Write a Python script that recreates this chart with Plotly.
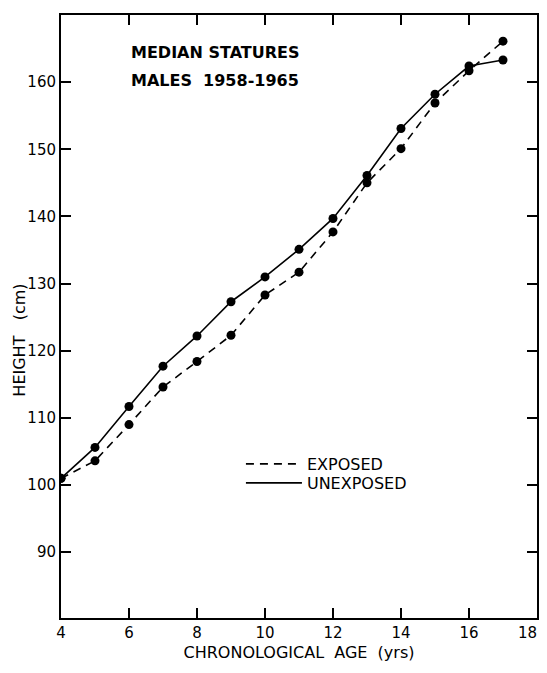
import plotly.graph_objects as go

ages = [4, 5, 6, 7, 8, 9, 10, 11, 12, 13, 14, 15, 16, 17]
exposed = [101.0, 103.6, 109.0, 114.6, 118.4, 122.3, 128.3, 131.7, 137.7, 145.0, 150.1, 156.9, 161.7, 166.1]
unexposed = [101.0, 105.6, 111.7, 117.7, 122.2, 127.3, 131.0, 135.1, 139.7, 146.1, 153.1, 158.2, 162.4, 163.3]

x_ticks = [4, 6, 8, 10, 12, 14, 16, 18]
x_labels = ["4", "6", "8", "10", "12", "14", "16", "18\u00a0\u00a0\u00a0\u00a0"]
y_ticks = [90, 100, 110, 120, 130, 140, 150, 160, 170]

FONT = "DejaVu Sans"

fig = go.Figure()

fig.add_trace(go.Scatter(
    x=ages, y=exposed, mode="lines+markers",
    line=dict(color="black", width=1.6, dash="8px,6px"),
    marker=dict(color="black", size=9),
    showlegend=False,
))
fig.add_trace(go.Scatter(
    x=ages, y=unexposed, mode="lines+markers",
    line=dict(color="black", width=1.6),
    marker=dict(color="black", size=9),
    showlegend=False,
))
# legend samples (lines only)
fig.add_trace(go.Scatter(
    x=[None], y=[None], mode="lines", name="EXPOSED", legend="legend",
    line=dict(color="black", width=1.6, dash="8px,6px"),
))
fig.add_trace(go.Scatter(
    x=[None], y=[None], mode="lines", name="UNEXPOSED", legend="legend2",
    line=dict(color="black", width=1.6),
))

PLOT_H = 603  # plot-area height in px

fig.add_annotation(
    x=0.142, y=0.937, xref="paper", yref="paper",
    xanchor="left", yanchor="middle", align="left", showarrow=False,
    text="<b>MEDIAN STATURES</b>",
    font=dict(family=FONT, size=16, color="black"),
)
fig.add_annotation(
    x=0.142, y=0.892, xref="paper", yref="paper",
    xanchor="left", yanchor="middle", align="left", showarrow=False,
    text="<b>MALES  1958-1965</b>",
    font=dict(family=FONT, size=16, color="black"),
)
fig.add_annotation(
    x=-0.089, y=(618 - 340) / PLOT_H, xref="paper", yref="paper",
    xanchor="center", yanchor="middle", showarrow=False, textangle=-90,
    text="HEIGHT   (cm)",
    font=dict(family=FONT, size=16, color="black"),
)

axis_common = dict(
    showline=True, linecolor="black", linewidth=2, mirror="ticks",
    ticks="inside", ticklen=10, tickwidth=1.5, tickcolor="black",
    showgrid=False, zeroline=False, automargin=False,
    tickfont=dict(family=FONT, size=15, color="black"),
)

legend_common = dict(
    xanchor="left", yanchor="middle",
    bgcolor="rgba(0,0,0,0)", itemwidth=56,
    font=dict(family=FONT, size=16, color="black"),
)

fig.update_layout(
    width=539, height=657,
    margin=dict(l=53, r=10, t=7, b=47),
    paper_bgcolor="white", plot_bgcolor="white",
    font=dict(family=FONT, color="black"),
    xaxis=dict(
        range=[4, 18], tickvals=x_ticks, ticktext=x_labels,
        ticklabeloverflow="allow",
        title=dict(text="CHRONOLOGICAL  AGE  (yrs)", font=dict(family=FONT, size=16), standoff=6),
        **axis_common,
    ),
    yaxis=dict(
        range=[80.2, 170], tickvals=y_ticks, ticktext=[str(v) for v in y_ticks],
        **axis_common,
    ),
    legend=dict(x=0.378, y=(618 - 464) / PLOT_H, **legend_common),
    legend2=dict(x=0.378, y=(618 - 483) / PLOT_H, **legend_common),
)

fig.write_html("out.html")
